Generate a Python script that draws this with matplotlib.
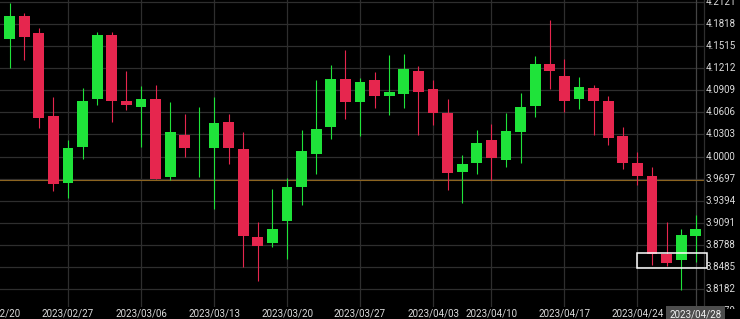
import matplotlib
matplotlib.use('Agg')
import matplotlib.pyplot as plt
import numpy as np
import pandas as pd
from matplotlib.transforms import Bbox, TransformedBbox, blended_transform_factory
from matplotlib.patches import Rectangle

# ---------------- data ----------------
dates = pd.bdate_range('2023-02-20', '2023-04-28')
dates = dates[dates != pd.Timestamp('2023-04-07')]   # market holiday

opens = [4.1215, 4.1609, 4.1929, 4.1691, 4.0556, 3.9633, 4.0135, 4.0786, 4.1668, 4.0766,
         4.0684, 4.0790, 3.9715, 4.0296, 4.0083, 4.0121, 4.0470, 4.0103, 3.8892, 3.8809,
         3.9115, 3.9586, 4.0031, 4.0410, 4.1060, 4.0753, 4.1050, 4.0831, 4.0858, 4.1178,
         4.0927, 4.0602, 3.9792, 3.9907, 4.0227, 3.9952, 4.0341, 4.0694, 4.1270, 4.1105,
         4.0786, 4.0937, 4.0766, 4.0282, 3.9907, 3.9733, 3.8662, 3.8580, 3.8909]
highs = [4.1599, 4.2111, 4.1974, 4.1760, 4.0813, 4.0227, 4.0937, 4.1705, 4.1705, 4.1174,
         4.0968, 4.0982, 4.0753, 4.0584, 4.0676, 4.0813, 4.0584, 4.0333, 3.9106, 3.9550,
         3.9701, 4.0364, 4.1050, 4.1256, 4.1462, 4.1074, 4.1164, 4.1394, 4.1407, 4.1243,
         4.1050, 4.0790, 4.0021, 4.0364, 4.0447, 4.0593, 4.0868, 4.1380, 4.1874, 4.1339,
         4.1096, 4.0982, 4.0831, 4.0410, 4.0066, 3.9860, 3.9106, 3.9001, 3.9198]
lows = [4.1160, 4.1219, 4.1325, 4.0388, 3.9527, 3.9435, 3.9966, 4.0707, 4.0478, 4.0639,
        4.0135, 3.9685, 3.9678, 3.9994, 3.9723, 3.9276, 3.9898, 3.8488, 3.8292, 3.8754,
        3.8594, 3.9335, 3.9760, 4.0237, 4.0515, 4.0282, 4.0662, 4.0570, 4.0662, 4.0296,
        4.0433, 3.9541, 3.9358, 3.9760, 3.9678, 3.9852, 3.9907, 4.0539, 4.0923, 4.0615,
        4.0648, 4.0296, 4.0158, 3.9825, 3.9609, 3.8511, 3.8498, 3.8168, 3.8557]
closes = [4.1531, 4.1929, 4.1637, 4.0533, 3.9619, 4.0113, 4.0766, 4.1668, 4.0762, 4.0707,
          4.0790, 3.9688, 4.0333, 4.0113, 4.0096, 4.0464, 4.0121, 3.8909, 3.8776, 3.9005,
          3.9586, 4.0076, 4.0374, 4.1060, 4.0753, 4.1027, 4.0835, 4.0890, 4.1197, 4.0890,
          4.0593, 3.9770, 3.9898, 4.0182, 3.9976, 4.0355, 4.0676, 4.1270, 4.1178, 4.0766,
          4.0958, 4.0766, 4.0250, 3.9907, 3.9733, 3.8658, 3.8535, 3.8923, 3.9001]

ytick_values = [3.7879, 3.8182, 3.8485, 3.8788, 3.9091, 3.9394, 3.9697, 4.0000,
                4.0303, 4.0606, 4.0909, 4.1212, 4.1515, 4.1818, 4.2121]
ref_level = 3.9678                 # horizontal reference line
box_range = (3.8468, 3.8678)       # highlighted price range
selected_date = '2023-04-28'

# ---------------- style ----------------
GREEN = '#1fe33a'
RED = '#e6264e'
GRID = '#2e2e2e'
TXT = '#dcdcdc'
FONT = ['Roboto', 'DejaVu Sans']

W, H = 740, 319
fig = plt.figure(figsize=(W / 100, H / 100), dpi=100, facecolor='black')
ax = fig.add_axes([0, 12 / H, 704 / W, 307 / H], facecolor='black')

x = np.arange(len(dates))
o = np.array(opens); c = np.array(closes)
hi = np.array(highs); lo = np.array(lows)
up = c >= o
colors = np.where(up, GREEN, RED)

# grid
mondays = [i for i, d in enumerate(dates) if d.weekday() == 0]
for i in mondays:
    ax.axvline(i, color=GRID, lw=0.9, zorder=0)
for v in ytick_values:
    ax.axhline(v, color=GRID, lw=0.9, zorder=0)

sel = list(dates).index(pd.Timestamp(selected_date))
ax.axvline(sel, color='#444444', lw=0.9, zorder=0.5)

ax.axhline(ref_level, color='#8c6420', lw=0.8, zorder=1)

# wicks + bodies
ax.vlines(x, lo, hi, colors=colors, lw=0.8, zorder=2)
body_h = np.maximum(np.abs(c - o), 0.0012)
body_b = np.minimum(o, c)
ax.bar(x, body_h, bottom=body_b, width=0.75, color=colors, linewidth=0, zorder=3)

# highlight rectangle
ax.add_patch(Rectangle((sel - 4.0, box_range[0]), 4.77, box_range[1] - box_range[0],
                       fill=False, edgecolor='white', lw=1.1, zorder=4, clip_on=False))

ax.set_xlim(0.342, 48.56)
ax.set_ylim(3.7935, 4.214845)
ax.set_xticks([]); ax.set_yticks([])
for s in ['top', 'left', 'bottom']:
    ax.spines[s].set_visible(False)
ax.spines['right'].set_color(GRID)
ax.spines['right'].set_linewidth(0.9)

# y labels on the right
clip = TransformedBbox(Bbox([[700 / W, 10.5 / H], [1, 1]]), fig.transFigure)
ytr = blended_transform_factory(fig.transFigure, ax.transData)
for v in ytick_values:
    t = fig.text(706 / W, v, f'{v:.4f}', transform=ytr, ha='left', va='center',
                 color=TXT, fontsize=7, family=FONT, zorder=3)
    t.set_clip_box(clip); t.set_clip_on(True)

# date labels
xtr = blended_transform_factory(ax.transData, fig.transFigure)
for i in mondays:
    fig.text(i, 5.5 / H, dates[i].strftime('%Y/%m/%d'), transform=xtr, ha='center',
             va='center', color=TXT, fontsize=7, family=FONT, zorder=3)
fig.text(sel, 5.0 / H, dates[sel].strftime('%Y/%m/%d'), transform=xtr, ha='center',
         va='center', color='#f0f0f0', fontsize=7, family=FONT, zorder=6,
         bbox=dict(boxstyle='square,pad=0.35', facecolor='#4d4d4d', edgecolor='none'))

fig.savefig('out.png', dpi=100, facecolor='black')
